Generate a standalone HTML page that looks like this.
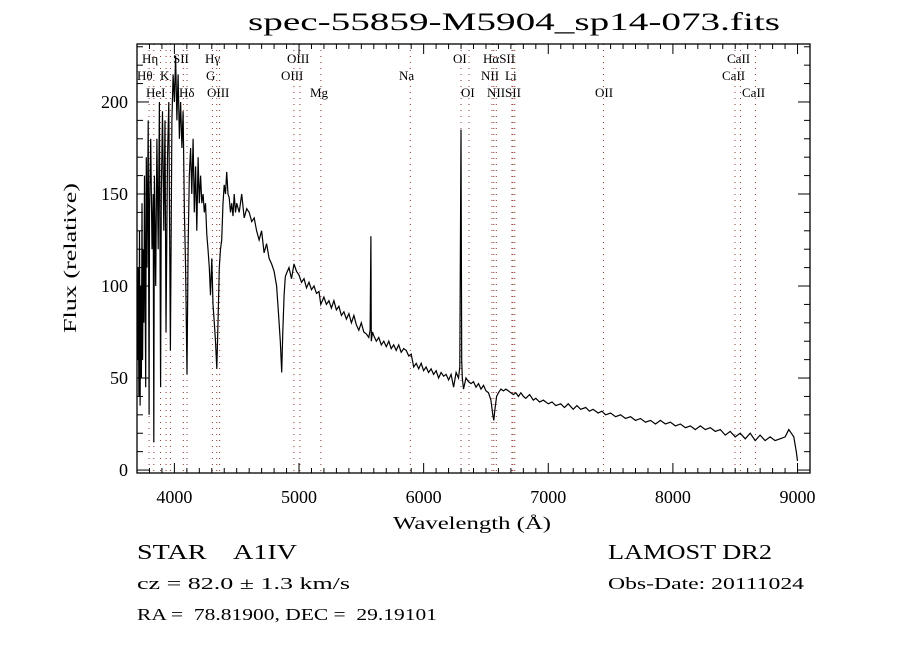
<!DOCTYPE html>
<html><head><meta charset="utf-8"><style>
body{margin:0;background:#fff}
svg{display:block}
text{font-family:"Liberation Serif",serif;fill:#000;white-space:pre}
</style></head><body>
<svg id="chart" width="900" height="650" viewBox="0 0 900 650" xmlns="http://www.w3.org/2000/svg" xml:space="preserve">
<rect width="900" height="650" fill="#fff"/>
<text x="248" y="30" font-size="25" textLength="532" lengthAdjust="spacingAndGlyphs">spec-55859-M5904_sp14-073.fits</text>
<g id="lines"></g>
<g id="ticks"></g>
<path id="spec" fill="none" stroke="#000" stroke-width="1.2"/>
<rect x="137" y="44" width="673" height="429" fill="none" stroke="#000" stroke-width="1.3"/>
<g id="labels" font-size="13"></g>
<text x="393" y="529" font-size="18" textLength="158" lengthAdjust="spacingAndGlyphs">Wavelength (Å)</text>
<text transform="translate(76,258) rotate(-90)" font-size="18" text-anchor="middle" textLength="150" lengthAdjust="spacingAndGlyphs">Flux (relative)</text>
<text x="137" y="559" font-size="21" textLength="160" lengthAdjust="spacingAndGlyphs">STAR    A1IV</text>
<text x="608" y="559" font-size="21" textLength="164" lengthAdjust="spacingAndGlyphs">LAMOST DR2</text>
<text x="137" y="589" font-size="17" textLength="213" lengthAdjust="spacingAndGlyphs">cz = 82.0 ± 1.3 km/s</text>
<text x="608" y="589" font-size="17" textLength="196" lengthAdjust="spacingAndGlyphs">Obs-Date: 20111024</text>
<text x="137" y="620" font-size="17" textLength="300" lengthAdjust="spacingAndGlyphs">RA =  78.81900, DEC =  29.19101</text>
</svg>
<script>
const wavelengths=[3705,3710,3715,3720,3725,3730,3735,3740,3745,3750,3755,3760,3770,3775,3780,3790,3797,3800,3810,3820,3830,3835,3840,3850,3860,3870,3880,3889,3895,3905,3915,3925,3933,3945,3955,3968,3980,3990,4000,4010,4020,4030,4040,4050,4060,4070,4080,4090,4101,4110,4120,4130,4140,4150,4160,4170,4180,4190,4200,4210,4220,4230,4240,4250,4260,4270,4280,4290,4300,4310,4320,4330,4340,4350,4360,4370,4380,4390,4400,4410,4420,4430,4440,4450,4460,4470,4480,4490,4500,4520,4540,4560,4580,4600,4620,4640,4660,4680,4700,4720,4740,4760,4780,4800,4820,4835,4850,4861,4870,4880,4890,4900,4920,4940,4960,4980,5000,5020,5040,5060,5080,5100,5120,5140,5160,5175,5200,5220,5240,5260,5280,5300,5320,5340,5360,5380,5400,5420,5440,5460,5480,5500,5520,5540,5560,5570,5577,5580,5590,5600,5620,5640,5660,5680,5700,5720,5740,5760,5780,5800,5820,5840,5860,5880,5900,5920,5940,5960,5980,6000,6020,6040,6060,6080,6100,6120,6140,6160,6180,6200,6220,6240,6260,6280,6290,6300,6305,6310,6320,6340,6360,6380,6400,6420,6440,6460,6480,6500,6520,6540,6555,6563,6570,6585,6600,6620,6640,6660,6680,6700,6720,6740,6760,6780,6800,6820,6850,6880,6900,6930,6960,7000,7030,7060,7100,7130,7160,7200,7230,7260,7300,7330,7360,7400,7430,7460,7500,7540,7580,7620,7660,7700,7740,7780,7820,7860,7900,7940,7980,8020,8060,8100,8140,8180,8220,8260,8300,8340,8380,8420,8460,8500,8540,8580,8620,8660,8700,8740,8780,8820,8860,8900,8930,8950,8970,8990,9000];
const fluxes=[60,110,40,130,35,100,50,145,60,120,80,160,45,170,110,190,30,140,180,120,150,15,160,100,180,120,200,45,150,195,130,190,75,170,200,65,190,215,200,225,190,215,180,200,175,195,140,110,52,120,160,175,150,180,140,165,130,170,145,160,145,150,140,145,128,120,110,95,115,90,80,70,55,80,110,120,125,145,155,150,162,150,148,140,145,138,150,140,145,140,150,137,142,140,135,137,130,125,130,118,123,115,112,108,100,85,70,53,75,95,105,107,110,104,112,108,106,102,104,99,102,98,100,96,97,90,94,90,92,88,92,87,89,84,86,82,85,80,84,79,76,80,75,74,72,76,127,70,75,73,70,72,68,70,67,70,66,68,65,68,64,66,65,62,63,56,58,55,58,54,56,53,55,52,54,50,53,51,52,49,52,45,53,50,56,185,60,50,44,50,48,47,48,45,47,44,46,43,42,38,30,27,32,40,42,44,43,44,43,42,41,42,40,42,40,39,41,38,39,37,38,36,37,35,36,34,36,33,35,33,34,32,33,31,32,30,31,29,30,28,29,27,28,26,27,25,27,25,26,24,25,23,24,22,24,22,23,21,22,19,21,18,20,17,20,16,19,16,18,16,17,18,22,20,18,10,5];
const lineWl=[3797,3835,3889,3933,3968,4072,4101,4305,4340,4363,4959,5007,5175,5893,6300,6364,6548,6563,6583,6708,6716,6731,7443,8498,8542,8662];
const labelText=["Hη","SII","Hγ","OIII","OI","HαSII","CaII","Hθ","K","G","OIII","Na","NII","Li","CaII","HeI","Hδ","OIII","Mg","OI","NIISII","OII","CaII"];
const labelX=[142,173,205,287,453,483,727,137,160,206,281,399,481,505,722,146,179,207,310,461,487,595,742];
const labelRow=[0,0,0,0,0,0,0,1,1,1,1,1,1,1,1,2,2,2,2,2,2,2,2];
const xTicks=[4000,5000,6000,7000,8000,9000];
const yTicks=[0,50,100,150,200];

const NS="http://www.w3.org/2000/svg";
const X0=137,X1=810,Y0=473,Y1=44,WMIN=3700,WMAX=9100,FMIN=-1.6,FMAX=231.5;
function xs(w){return X0+(w-WMIN)/(WMAX-WMIN)*(X1-X0);}
function ys(f){return Y0-(f-FMIN)/(FMAX-FMIN)*(Y0-Y1);}
function mk(tag,attrs,parent){const e=document.createElementNS(NS,tag);for(const k in attrs)e.setAttribute(k,attrs[k]);parent.appendChild(e);return e;}

let d="";
for(let i=0;i<wavelengths.length;i++){d+=(i?"L":"M")+xs(wavelengths[i]).toFixed(1)+" "+ys(fluxes[i]).toFixed(1);}
document.getElementById('spec').setAttribute('d',d);

const lg=document.getElementById('lines');
lineWl.forEach(w=>{
  const l=mk('line',{x1:xs(w),x2:xs(w),y1:Y1,y2:Y0,stroke:'#8b3a2a','stroke-width':1,'stroke-dasharray':'1 5'},lg);
  
  
});

const lab=document.getElementById('labels');
labelText.forEach((t,i)=>{
  const e=mk('text',{x:labelX[i],y:63+labelRow[i]*17},lab);
  e.textContent=t;
  
  
});

const tg=document.getElementById('ticks');
for(let w=3800;w<=9100;w+=100){
  const major=w%1000===0, len=major?10:5;
  mk('line',{x1:xs(w),x2:xs(w),y1:Y0,y2:Y0-len,stroke:'#000'},tg);
  mk('line',{x1:xs(w),x2:xs(w),y1:Y1,y2:Y1+len,stroke:'#000'},tg);
}
for(let f=0;f<=230;f+=10){
  const major=f%50===0, len=major?12:6;
  mk('line',{x1:X0,x2:X0+len,y1:ys(f),y2:ys(f),stroke:'#000'},tg);
  mk('line',{x1:X1,x2:X1-len,y1:ys(f),y2:ys(f),stroke:'#000'},tg);
}
xTicks.forEach(w=>{
  const t=mk('text',{x:xs(w),y:503,'font-size':18,'text-anchor':'middle'},tg);
  t.textContent=w;
  
  
});
yTicks.forEach(f=>{
  const t=mk('text',{x:128,y:ys(f)+6,'font-size':18,'text-anchor':'end'},tg);
  t.textContent=f;
  
  
});
</script>
</body></html>
